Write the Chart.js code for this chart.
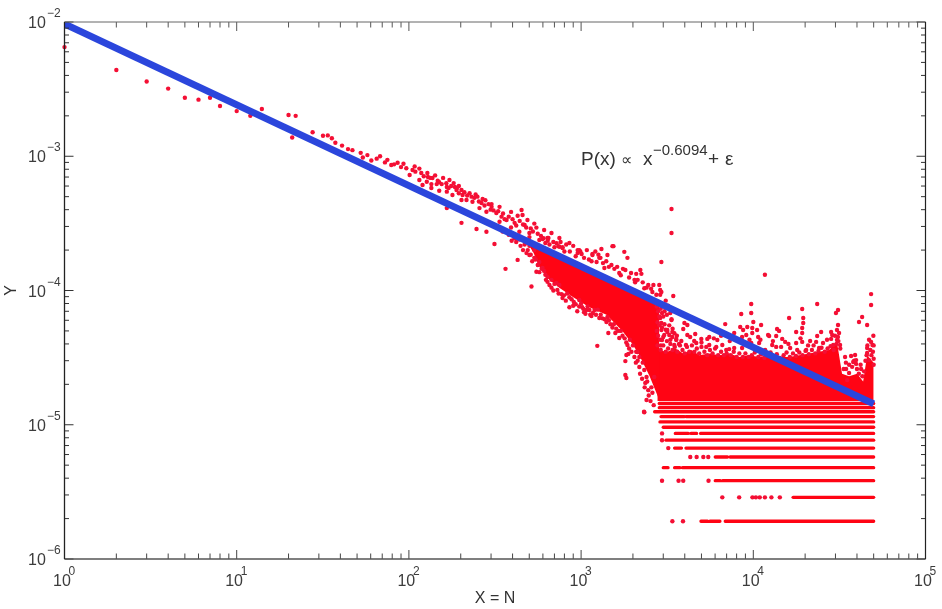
<!DOCTYPE html>
<html>
<head>
<meta charset="utf-8">
<title>P(x) power law</title>
<script src="https://cdn.jsdelivr.net/npm/chart.js@4"></script>
<style>
  html, body { margin: 0; padding: 0; background: #fff; }
  canvas { display: block; }
</style>
</head>
<body>
<canvas id="grafica" width="942" height="609"></canvas>
<script>
// --- DATA ---
const xDecades = [1, 10, 100, 1000, 10000, 100000];
const yDecades = [1e-6, 1e-5, 1e-4, 1e-3, 1e-2];
const xExponents = ['0', '1', '2', '3', '4', '5'];
const yExponents = ['\u22126', '\u22125', '\u22124', '\u22123', '\u22122'];
const minorSteps = [2, 3, 4, 5, 6, 7, 8, 9];

const fitX = [1, 50000];
const fitY = [9.67e-3, 1.43e-5];

// solid part of the cloud, along the fit
const ridgeX = [490, 530, 572, 655, 747, 891, 1117, 1403, 1737, 1986, 2178, 2500, 2844];
const ridgeUpper = [2.3e-4, 2.15e-4, 2.12e-4, 1.96e-4, 1.81e-4, 1.63e-4, 1.42e-4, 1.24e-4, 1.09e-4, 1.01e-4, 9.5e-5, 8.8e-5, 8.07e-5];
const ridgeLower = [2.25e-4, 1.9e-4, 1.5e-4, 1.2e-4, 1.05e-4, 9e-5, 7.5e-5, 6.6e-5, 5e-5, 4e-5, 3.3e-5, 2.3e-5, 1.53e-5];

// solid part of the cloud, flat tail
const tailX = [2771, 3168, 3524, 3919, 4365, 4856, 5550, 6340, 7244, 8279, 9462, 10810, 12360, 14120, 16140, 18450, 21090, 24100, 27540, 30640, 32770, 35980, 40070, 43440, 45820, 50000];
const tailUpper = [3.6e-5, 3.5e-5, 3.7e-5, 3.4e-5, 3.6e-5, 3.3e-5, 3.4e-5, 3.3e-5, 3.4e-5, 3.2e-5, 3.3e-5, 3.2e-5, 3.3e-5, 3.2e-5, 3.2e-5, 3.3e-5, 3.4e-5, 3.5e-5, 3.6e-5, 4.1e-5, 2.4e-5, 2.3e-5, 2.4e-5, 2.1e-5, 3.3e-5, 2.9e-5];
const tailLower = [1.5e-5, 1.5e-5, 1.5e-5, 1.5e-5, 1.5e-5, 1.5e-5, 1.5e-5, 1.5e-5, 1.5e-5, 1.5e-5, 1.5e-5, 1.5e-5, 1.5e-5, 1.5e-5, 1.5e-5, 1.5e-5, 1.5e-5, 1.5e-5, 1.5e-5, 1.5e-5, 1.5e-5, 1.5e-5, 1.5e-5, 1.5e-5, 1.5e-5, 1.5e-5];

// discrete rows at the bottom: level and the stretches of x it covers
const bandLevels = [1.91e-6, 2.88e-6, 3.83e-6, 4.79e-6, 5.75e-6, 6.7e-6, 7.67e-6, 8.62e-6, 9.58e-6, 1.05e-5, 1.15e-5, 1.25e-5, 1.34e-5, 1.44e-5];
const bandStretches = [
  [[4966, 5424], [5600, 6400], [6871, 50000]],
  [[17030, 50000]],
  [[6012, 6427], [6637, 50000]],
  [[3000, 3198], [3491, 3750], [3882, 50000]],
  [[6012, 7079], [7328, 50000]],
  [[3491, 3828], [4064, 50000]],
  [[3112, 50000]],
  [[3524, 4188], [4345, 4688], [4943, 50000]],
  [[3000, 50000]],
  [[2871, 50000]],
  [[2911, 3981], [4064, 50000]],
  [[2673, 50000]],
  [[2844, 50000]],
  [[2844, 50000]]
];
const bandDots = [
  [3388, 1.91e-6], [3906, 1.91e-6],
  [6607, 2.88e-6], [8279, 2.88e-6], [9886, 2.88e-6], [10350, 2.88e-6], [10900, 2.88e-6], [11680, 2.88e-6], [12740, 2.88e-6], [14260, 2.88e-6],
  [2951, 3.83e-6], [3681, 3.83e-6], [3919, 3.83e-6], [5495, 3.83e-6],
  [4305, 5.75e-6], [4688, 5.75e-6], [5125, 5.75e-6], [5476, 5.75e-6],
  [3208, 6.7e-6], [2951, 7.67e-6], [2951, 8.62e-6], [2320, 1.25e-5]
];

// single dots
const earlyPoints = [
  [1, 6.5e-3], [2, 4.39e-3], [3, 3.6e-3], [4, 3.19e-3], [5, 2.73e-3], [6, 2.64e-3], [7, 2.73e-3], [8, 2.37e-3],
  [10, 2.17e-3], [12, 2.0e-3], [14, 2.25e-3], [20, 2.03e-3], [22, 2.0e-3], [21, 1.38e-3],
  [27.6, 1.51e-3], [31.7, 1.42e-3], [33.8, 1.43e-3], [35.7, 1.36e-3], [37.4, 1.26e-3], [40.9, 1.2e-3], [44.3, 1.13e-3],
  [47, 1.11e-3], [52.5, 1.06e-3], [57.4, 1.02e-3], [54, 9.8e-4], [60.5, 9.3e-4], [72.6, 9.0e-4], [79, 8.6e-4], [86, 8.95e-4],
  [96.6, 8.13e-4], [115, 8.09e-4], [109, 7.68e-4], [101, 7.25e-4],
  [65, 9.6e-4], [68, 1.0e-3], [75, 9.4e-4], [82, 8.7e-4], [90, 8.3e-4], [93, 8.8e-4], [105, 7.9e-4], [108, 8.4e-4]
];
const ridgePoints = [
  [115, 6.66e-4], [127, 6.46e-4], [129, 7.0e-4], [137, 6.89e-4], [147, 6.58e-4], [172, 6.66e-4], [182, 6.31e-4], [135, 5.8e-4],
  [150, 5.53e-4], [166, 5.45e-4], [189, 5.61e-4], [179, 5.14e-4], [205, 5.14e-4], [231, 5.0e-4], [216, 4.72e-4], [202, 4.72e-4],
  [234, 4.58e-4], [257, 4.11e-4], [302, 4.2e-4], [282, 3.86e-4], [322, 3.78e-4], [345, 3.55e-4], [369, 3.35e-4], [411, 3.19e-4],
  [451, 3.98e-4], [457, 3.65e-4], [470, 3.08e-4], [550, 2.94e-4], [501, 2.68e-4], [597, 2.42e-4], [638, 2.46e-4], [748, 2.12e-4],
  [780, 2.1e-4], [976, 2.0e-4], [955, 1.9e-4], [1164, 1.84e-4], [1312, 2.04e-4], [1521, 2.14e-4], [1422, 1.84e-4], [1276, 1.75e-4],
  [202, 3.19e-4], [166, 4.11e-4], [247, 2.87e-4], [314, 2.22e-4], [282, 2.74e-4], [364, 1.45e-4], [515, 1.07e-4], [428, 1.69e-4],
  [482, 1.9e-4], [550, 1.38e-4], [673, 1.05e-4], [780, 8.8e-5], [855, 7.5e-5], [638, 1.26e-4], [719, 1.14e-4], [1073, 7.16e-5],
  [1197, 7.16e-5], [1422, 6.35e-5], [264, 4.49e-4],
  [120, 6.1e-4], [135, 6.2e-4], [150, 6.4e-4], [166, 5.9e-4], [190, 5.8e-4], [202, 5.6e-4], [225, 5.3e-4], [250, 5e-4], [278, 4.7e-4],
  [302, 4.4e-4], [336, 4.2e-4], [392, 3.85e-4], [428, 3.6e-4], [488, 3.35e-4], [535, 3.15e-4], [610, 2.82e-4], [673, 2.68e-4], [748, 2.46e-4], [855, 2.26e-4],
  [336, 3.25e-4], [392, 2.95e-4], [438, 2.74e-4], [501, 2.5e-4], [572, 2.38e-4], [655, 2.2e-4],
  [470, 2.2e-4], [501, 2.15e-4], [535, 2.0e-4], [501, 1.84e-4], [535, 1.75e-4], [572, 1.63e-4], [597, 1.47e-4], [572, 1.37e-4],
  [620, 1.31e-4], [638, 1.16e-4], [673, 1.2e-4], [728, 1.01e-4], [748, 1.1e-4], [795, 9.2e-5], [855, 8.9e-5], [907, 8.2e-5], [976, 8.5e-5], [1040, 6.9e-5],
  [411, 2.45e-4], [438, 2.4e-4]
];
const ridgeUpperDots = [
  [118, 7.5e-4], [122, 7.1e-4], [128, 7.5e-4], [133, 6.9e-4], [142, 7.2e-4], [145, 6.2e-4], [155, 6.2e-4], [158, 6.9e-4], [165, 6.3e-4], [170, 5.8e-4],
  [176, 6.0e-4], [185, 5.9e-4], [195, 5.3e-4], [195, 6.0e-4], [210, 5.4e-4], [218, 5.1e-4], [240, 4.9e-4], [244, 5.2e-4], [255, 4.6e-4], [268, 4.8e-4],
  [275, 4.3e-4], [290, 4.4e-4], [298, 4.0e-4], [310, 3.95e-4], [330, 3.9e-4], [352, 3.75e-4], [360, 3.4e-4], [380, 3.55e-4], [400, 3.4e-4], [420, 3.05e-4],
  [440, 3.3e-4], [460, 3.1e-4], [480, 2.95e-4], [510, 2.9e-4], [525, 2.75e-4], [560, 2.65e-4], [585, 2.55e-4], [605, 2.45e-4], [640, 2.35e-4], [690, 2.3e-4],
  [700, 2.1e-4], [720, 2.25e-4], [760, 2.3e-4], [800, 1.95e-4], [820, 2.2e-4], [860, 1.95e-4], [900, 2.15e-4], [930, 1.8e-4], [990, 1.95e-4], [1040, 1.75e-4],
  [1080, 2.0e-4], [1110, 1.7e-4], [1150, 1.65e-4], [1210, 1.95e-4], [1260, 1.85e-4], [1340, 1.6e-4], [1400, 1.65e-4], [1450, 1.5e-4], [1560, 1.45e-4], [1620, 1.5e-4],
  [1700, 1.3e-4], [1750, 1.45e-4], [1900, 1.25e-4], [1950, 1.35e-4], [2060, 1.15e-4], [2130, 1.2e-4], [2280, 1.15e-4], [2400, 1.05e-4], [2550, 1.03e-4]
];
const ridgeLowerDots = [
  [300, 3.1e-4], [350, 2.75e-4], [380, 2.6e-4], [395, 2.35e-4], [420, 2.3e-4], [445, 2.15e-4], [460, 2.0e-4], [490, 2.0e-4], [510, 1.85e-4], [520, 1.65e-4],
  [545, 1.7e-4], [560, 1.55e-4], [590, 1.45e-4], [610, 1.4e-4], [625, 1.2e-4], [655, 1.1e-4], [690, 1.0e-4], [700, 1.12e-4], [740, 9.5e-5], [770, 9.4e-5],
  [815, 8.4e-5], [830, 9.5e-5], [880, 8.6e-5], [900, 7.7e-5], [930, 7.9e-5], [950, 7e-5], [975, 7.6e-5], [1000, 8e-5], [1030, 7.3e-5], [1060, 6.7e-5],
  [1090, 7.6e-5], [1130, 6.6e-5], [1170, 6.8e-5], [1220, 6.6e-5], [1250, 7.2e-5], [1300, 6.6e-5], [1330, 6.2e-5], [1370, 6.1e-5], [1450, 6.0e-5], [1480, 5.6e-5],
  [1520, 5.3e-5], [1550, 5.6e-5], [1600, 5.2e-5], [1640, 5e-5], [1700, 5e-5], [1740, 4.6e-5], [1790, 4.4e-5], [1830, 4.1e-5], [1900, 3.7e-5], [1920, 4.3e-5],
  [1960, 3.5e-5], [2000, 3.9e-5], [2040, 3.2e-5], [2080, 2.9e-5], [2090, 3.5e-5], [2130, 3.0e-5], [2200, 2.4e-5], [2260, 2.2e-5], [2280, 2.9e-5], [2340, 1.9e-5],
  [2420, 2.1e-5], [2470, 1.65e-5], [2530, 1.5e-5], [2560, 1.9e-5], [2640, 1.4e-5]
];
const kneePoints = [
  [646, 2.46e-4], [620, 2.26e-4], [738, 2.14e-4], [780, 2.07e-4], [955, 2.0e-4], [1007, 1.87e-4], [1164, 1.87e-4], [1541, 2.14e-4],
  [1295, 1.75e-4], [1230, 1.63e-4], [1782, 1.94e-4], [1858, 1.75e-4], [1500, 1.55e-4], [1365, 1.47e-4], [1666, 1.35e-4], [1807, 1.42e-4],
  [2090, 1.33e-4], [2208, 1.42e-4], [2239, 1.33e-4], [2042, 1.2e-4], [2328, 1.04e-4], [2455, 1.1e-4], [2630, 1.1e-4], [2844, 1.1e-4],
  [2925, 9.75e-5], [2594, 9.75e-5], [3430, 9.1e-5], [3350, 2.68e-4], [3350, 4.05e-4], [2925, 1.63e-4], [2735, 9.3e-5],
  [1242, 3.87e-5], [1439, 4.83e-5], [1666, 4.43e-5], [1581, 4.83e-5], [1117, 7.16e-5], [1016, 7.5e-5], [1148, 6.46e-5], [1276, 6.24e-5], [1403, 5.82e-5],
  [1807, 2.35e-5], [1832, 2.23e-5], [1832, 3.31e-5], [1807, 2.98e-5], [1882, 3.37e-5], [1858, 3.93e-5], [2178, 2.69e-5], [2359, 2.05e-5],
  [2455, 1.81e-5], [2399, 1.53e-5], [2328, 1.24e-5], [2178, 3.2e-5], [2123, 3.48e-5], [2399, 2.27e-5], [2328, 2.56e-5], [2594, 1.73e-5], [2661, 2.27e-5],
  [2925, 5.08e-5], [3168, 4.9e-5], [3388, 4.51e-5], [3570, 4.28e-5], [3040, 4.66e-5], [3350, 6.12e-5],
  [2750, 7.6e-5], [2800, 7e-5], [2900, 7.3e-5], [2850, 6.4e-5], [2950, 6.8e-5], [3000, 6.4e-5], [3050, 7.0e-5], [3150, 6.6e-5], [2780, 5.8e-5], [2850, 5.5e-5],
  [2950, 5.3e-5], [3050, 5.6e-5], [3100, 5.1e-5], [3250, 5.5e-5], [3400, 5.2e-5], [3480, 4.8e-5], [2750, 5e-5], [2800, 4.6e-5], [2880, 4.3e-5], [3000, 4.5e-5],
  [3150, 4.2e-5], [3300, 4.3e-5], [3600, 4.6e-5], [3700, 4.0e-5], [2780, 3.9e-5], [2900, 3.9e-5], [3200, 7.7e-5], [3100, 8.4e-5]
];
const tailPoints = [
  [2880, 1.01e-4], [2880, 9.3e-5], [3296, 6.8e-5], [3350, 6.03e-5], [2880, 6.24e-5], [2925, 5.73e-5], [3981, 5.73e-5], [4140, 5.53e-5], [3919, 5.17e-5],
  [3168, 5.08e-5], [3388, 4.91e-5], [4140, 4.66e-5], [4600, 4.74e-5], [3570, 4.36e-5], [3819, 4.21e-5], [4989, 4.36e-5], [4539, 4.21e-5], [5550, 4.51e-5],
  [5408, 4.36e-5], [6180, 4.28e-5], [6871, 5.62e-5], [6607, 3.93e-5], [7244, 3.66e-5], [7745, 4.82e-5], [8511, 6.68e-5], [9727, 6.79e-5], [9727, 7.93e-5],
  [8395, 5.35e-5], [8730, 5.08e-5], [9226, 5.35e-5], [10000, 5.82e-5], [9862, 5.26e-5], [10520, 5.08e-5], [11100, 5.53e-5], [8610, 4.51e-5], [9100, 4.66e-5],
  [9862, 4.82e-5], [10670, 4.51e-5], [12190, 4.66e-5], [9727, 4.06e-5], [10810, 4.06e-5], [11720, 3.6e-5], [6964, 3.6e-5], [5550, 3.93e-5], [4666, 4.06e-5],
  [5333, 3.8e-5], [4064, 3.93e-5], [3251, 4.66e-5], [2951, 4.28e-5], [3475, 3.93e-5], [6095, 3.8e-5], [7745, 3.73e-5], [8610, 3.73e-5], [11680, 1.31e-4],
  [23500, 7.93e-5], [16140, 6.24e-5], [19230, 7.28e-5], [19500, 6.24e-5], [19500, 5.73e-5], [19230, 5.26e-5], [19230, 4.82e-5], [17740, 4.91e-5], [31050, 7.16e-5],
  [30200, 6.79e-5], [31050, 5.53e-5], [24770, 4.91e-5], [23500, 4.58e-5], [28310, 4.91e-5], [28710, 4.66e-5], [30620, 5.08e-5], [31470, 4.82e-5], [41100, 5.82e-5],
  [42860, 6.35e-5], [45820, 5.53e-5], [48310, 9.4e-5], [48310, 7.8e-5], [13740, 5.17e-5], [14120, 5.0e-5], [12360, 4.58e-5], [13580, 4.58e-5], [14720, 4.36e-5],
  [15320, 4.14e-5], [12880, 3.93e-5], [13580, 3.8e-5], [14510, 3.8e-5], [16370, 3.73e-5], [17740, 4.06e-5], [19230, 4.14e-5], [21380, 4.21e-5], [23170, 4.14e-5],
  [25410, 4.06e-5], [28310, 4.36e-5], [30620, 4.28e-5], [24100, 3.73e-5], [17990, 3.6e-5], [20280, 3.6e-5], [29110, 3.93e-5], [31910, 3.93e-5], [34120, 3.2e-5],
  [36980, 3.25e-5], [39000, 3.31e-5], [39540, 3.03e-5], [39540, 2.84e-5], [42270, 2.6e-5], [34590, 2.6e-5], [35980, 2.43e-5], [45820, 3.73e-5], [45820, 3.42e-5],
  [48310, 4.14e-5], [49200, 3.93e-5], [46990, 3.03e-5], [38020, 2.93e-5], [35080, 2.15e-5]
];
const tailEdgeDots = [
  [2900, 3.6e-5], [3000, 3.9e-5], [3100, 3.5e-5], [3200, 3.7e-5], [3300, 4.0e-5], [3400, 3.6e-5], [3500, 3.8e-5], [3620, 3.5e-5], [3750, 3.9e-5], [3880, 3.6e-5],
  [4000, 3.4e-5], [4120, 3.8e-5], [4250, 3.5e-5], [4400, 3.9e-5], [4550, 3.5e-5], [4700, 3.7e-5], [4850, 3.4e-5], [5000, 3.8e-5], [5200, 3.5e-5], [5400, 3.3e-5],
  [5600, 3.6e-5], [5800, 3.4e-5], [6000, 3.7e-5], [6250, 3.3e-5], [6500, 3.5e-5], [6750, 3.3e-5], [7000, 3.4e-5], [7400, 3.3e-5], [7700, 3.5e-5], [8000, 3.2e-5],
  [8300, 3.4e-5], [8700, 3.2e-5], [9000, 3.4e-5], [9400, 3.2e-5], [9800, 3.3e-5], [10200, 3.45e-5], [10700, 3.2e-5], [11100, 3.35e-5], [11600, 3.15e-5], [12000, 3.3e-5],
  [12600, 3.45e-5], [13100, 3.2e-5], [13700, 3.35e-5], [14300, 3.15e-5], [15000, 3.3e-5], [15600, 3.45e-5], [16300, 3.2e-5], [17000, 3.4e-5], [17700, 3.25e-5], [18500, 3.45e-5],
  [19300, 3.3e-5], [20100, 3.55e-5], [21000, 3.35e-5], [21900, 3.6e-5], [22900, 3.4e-5], [23900, 3.55e-5], [24900, 3.75e-5], [26000, 3.5e-5], [27000, 3.7e-5], [28100, 3.85e-5],
  [29300, 3.6e-5], [30400, 4.0e-5], [31200, 4.2e-5], [32000, 3.7e-5],
  [4300, 4.5e-5], [5000, 4.1e-5], [5900, 4.4e-5], [6500, 4.6e-5], [7300, 4.2e-5], [7900, 4.4e-5], [9500, 4.3e-5], [11000, 4.3e-5], [13000, 4.2e-5], [16000, 4.0e-5],
  [18800, 4.4e-5], [20800, 3.9e-5], [22400, 3.9e-5], [26800, 4.3e-5], [29800, 4.6e-5], [31000, 4.5e-5],
  [33500, 2.6e-5], [34500, 2.9e-5], [36000, 2.8e-5], [37500, 2.7e-5], [38500, 3.0e-5], [40000, 2.6e-5], [41000, 2.4e-5], [42000, 2.8e-5], [43000, 2.3e-5], [44000, 2.5e-5],
  [44800, 3.0e-5], [45500, 3.3e-5], [46000, 3.9e-5], [47000, 4.3e-5], [47800, 3.6e-5], [48500, 3.3e-5], [49500, 3.5e-5], [50000, 3.1e-5], [50000, 2.8e-5], [49800, 4.6e-5], [50000, 3.9e-5]
];

// --- HELPERS ---
const ROJO = '#ff0414';
const PUNTO = '#f40f34';
const AZUL = '#2b46dc';
const FUENTE = '"Liberation Sans", Arial, sans-serif';

function aPuntos(xs, ys) {
  return xs.map((x, i) => ({ x: x, y: ys[i] }));
}
function parADato(pares) {
  return pares.map(p => ({ x: p[0], y: p[1] }));
}
function tramosDeBanda(nivel, tramos) {
  const salida = [];
  tramos.forEach(t => {
    salida.push({ x: t[0], y: nivel }, { x: t[1], y: nivel }, { x: t[1], y: null });
  });
  return salida;
}
function linea(data, extra) {
  return Object.assign({ data: data, pointRadius: 0, borderWidth: 0, fill: false, tension: 0 }, extra);
}

const todosLosPuntos = [].concat(earlyPoints, ridgePoints, ridgeUpperDots, ridgeLowerDots, kneePoints, tailPoints, tailEdgeDots, bandDots);

const datasets = [
  linea(aPuntos(fitX, fitY), { label: 'ajuste', borderColor: AZUL, borderWidth: 7 }),
  { label: 'puntos', data: parADato(todosLosPuntos), showLine: false, clip: 4,
    pointRadius: 2.2, pointBackgroundColor: PUNTO, pointBorderWidth: 0 }
];
bandLevels.forEach((nivel, i) => {
  datasets.push(linea(tramosDeBanda(nivel, bandStretches[i]), { label: 'fila ' + i, borderColor: ROJO, borderWidth: 3.3, borderCapStyle: 'round', spanGaps: false }));
});
datasets.push(linea(aPuntos(ridgeX, ridgeUpper), { label: 'loma', fill: '+1', backgroundColor: ROJO }));
datasets.push(linea(aPuntos(ridgeX, ridgeLower), { label: 'loma base' }));
datasets.push(linea(aPuntos(tailX, tailUpper), { label: 'cola', fill: '+1', backgroundColor: ROJO }));
datasets.push(linea(aPuntos(tailX, tailLower), { label: 'cola base' }));

// --- AXIS DRAWING: inward ticks on all four sides, 10^n labels, formula ---
const marcoPlugin = {
  id: 'marco',
  afterDraw(chart) {
    const ctx = chart.ctx;
    const a = chart.chartArea;
    const sx = chart.scales.x;
    const sy = chart.scales.y;
    ctx.save();

    function raya(x1, y1, x2, y2, color, ancho) {
      ctx.strokeStyle = color;
      ctx.lineWidth = ancho;
      ctx.beginPath();
      ctx.moveTo(x1, y1);
      ctx.lineTo(x2, y2);
      ctx.stroke();
    }
    function marcaX(v, largo) {
      const p = sx.getPixelForValue(v);
      raya(p, a.bottom, p, a.bottom - largo, '#444', 1);
      raya(p, a.top, p, a.top + largo, '#555', 1);
    }
    function marcaY(v, largo) {
      const p = sy.getPixelForValue(v);
      raya(a.left, p, a.left + largo, p, '#333', 1);
      raya(a.right, p, a.right - largo, p, '#333', 1);
    }
    xDecades.forEach((d, i) => {
      marcaX(d, 9);
      if (i < xDecades.length - 1) minorSteps.forEach(m => marcaX(d * m, 5.5));
    });
    yDecades.forEach((d, i) => {
      marcaY(d, 9);
      if (i < yDecades.length - 1) minorSteps.forEach(m => marcaY(d * m, 4.5));
    });

    raya(a.left, a.top, a.right, a.top, '#666', 1);
    raya(a.left, a.bottom, a.right, a.bottom, '#555', 1.5);
    raya(a.left, a.top, a.left, a.bottom, '#222', 1.3);
    raya(a.right, a.top, a.right, a.bottom, '#222', 1.2);

    ctx.fillStyle = '#3c3c3c';
    ctx.textBaseline = 'alphabetic';
    ctx.textAlign = 'left';
    xDecades.forEach((d, i) => {
      const p = sx.getPixelForValue(d);
      ctx.font = '16px ' + FUENTE;
      ctx.fillText('10', p - 11.5, 586);
      ctx.font = '12px ' + FUENTE;
      ctx.fillText(xExponents[i], p + 4, 575);
    });
    yDecades.forEach((d, i) => {
      const p = sy.getPixelForValue(d);
      ctx.font = '16px ' + FUENTE;
      ctx.fillText('10', 28, p + 6);
      ctx.font = '12px ' + FUENTE;
      ctx.fillText(yExponents[i], 47, p - 5);
    });

    ctx.fillStyle = '#333';
    ctx.font = '19px ' + FUENTE;
    ctx.fillText('P(x)', 581, 165);
    ctx.fillText('x', 643, 165);
    ctx.fillText('+', 708, 165);
    ctx.fillText('\u03b5', 725, 165);
    ctx.font = '16px ' + FUENTE;
    ctx.fillText('\u221d', 621, 165);
    ctx.font = '15px ' + FUENTE;
    ctx.fillText('\u22120.6094', 653, 155);
    ctx.restore();
  }
};

// --- CHART ---
new Chart(document.getElementById('grafica').getContext('2d'), {
  type: 'line',
  data: { datasets: datasets },
  plugins: [marcoPlugin],
  options: {
    responsive: false,
    animation: false,
    layout: { padding: { top: 22, right: 16.5, left: 0, bottom: 0 } },
    plugins: { legend: { display: false }, tooltip: { enabled: false } },
    scales: {
      x: {
        type: 'logarithmic', min: 1, max: 100000,
        grid: { display: false }, border: { display: false },
        ticks: { display: false },
        afterFit(s) { s.height = 50; },
        title: { display: true, text: 'X = N', color: '#333', font: { size: 16, family: FUENTE }, padding: { top: 0, bottom: 1 } }
      },
      y: {
        type: 'logarithmic', min: 1e-6, max: 1e-2,
        grid: { display: false }, border: { display: false },
        ticks: { display: false },
        afterFit(s) { s.width = 64.5; },
        title: { display: true, text: 'Y', color: '#333', font: { size: 16, family: FUENTE }, padding: { top: 2, bottom: 0 } }
      }
    }
  }
});
</script>
</body>
</html>
